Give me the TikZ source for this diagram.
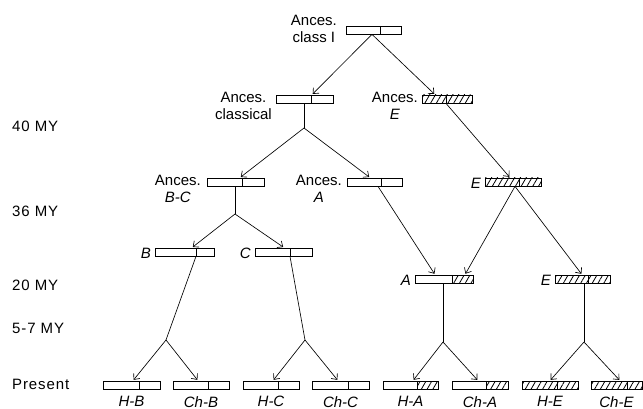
\documentclass[tikz,border=0pt]{standalone}
\usepackage{fontspec}
\setmainfont{Liberation Sans}
\usetikzlibrary{arrows.meta,patterns.meta,calc}
\tikzset{
  lbl/.style={font=\fontsize{15}{17}\selectfont, inner sep=0pt},
  tlbl/.style={font=\fontsize{15}{17}\selectfont\addfontfeature{LetterSpace=6}, inner sep=0pt},
  ilbl/.style={font=\fontsize{15}{17}\selectfont\itshape, inner sep=0pt},
  conn/.style={line width=0.65pt},
  arr/.style={conn, shorten >=1pt, -{Straight Barb[length=4.5pt,width=8pt]}},
  barbox/.style={draw, line width=0.75pt, inner sep=0pt, minimum height=8pt},
  hatch/.style={pattern={Lines[angle=60,distance=5pt,line width=0.8pt]}},
}
\newcommand\gbar[6]{%
  \ifcase#6\or
    \fill[hatch] (#4,#5) rectangle (#3,#5+8);
  \or
    \fill[hatch] (#2,#5) rectangle (#3,#5+8);
  \fi
  \node[barbox, minimum width={#3pt-#2pt}] (#1) at ({(#2+#3)/2},{#5+4}) {};
  \draw[line width=0.75pt] (#4,#5) -- (#4,#5+8);
}
\begin{document}
\begin{tikzpicture}[x=1pt,y=-1pt]
\useasboundingbox[fill=white] (0,0) rectangle (643,409);
% bars
\gbar{top}{346}{401}{380}{26}{0}
\gbar{cl}{276}{333}{311}{95}{0}
\gbar{e40}{422}{472}{446}{95}{2}
\gbar{bc}{207}{264}{242}{178}{0}
\gbar{a36}{347}{402}{381}{178}{0}
\gbar{e36}{485}{541}{519}{178}{2}
\gbar{b}{155}{214}{196}{248}{0}
\gbar{c}{255}{312}{290}{248}{0}
\gbar{a20}{415}{473}{452}{275}{1}
\gbar{e20}{555}{610}{588}{275}{2}
\gbar{hb}{103}{160}{139}{381}{0}
\gbar{chb}{173}{229}{208}{381}{0}
\gbar{hc}{243}{299}{278}{381}{0}
\gbar{chc}{312}{369}{348}{381}{0}
\gbar{ha}{383}{438}{417}{381}{1}
\gbar{cha}{452}{508}{486}{381}{1}
\gbar{he}{522}{578}{557}{381}{2}
\gbar{che}{591}{642}{627}{381}{2}
% fork points
\coordinate (f1) at (304,128);
\coordinate (f2) at (235,214);
\coordinate (f3) at (166,340);
\coordinate (f4) at (305,340);
\coordinate (f5) at (443,342);
\coordinate (f6) at (584,342);
% connectors
\draw[arr] ([xshift=-1.5pt]top.south) -- ([xshift=7.5pt]cl.north);
\draw[arr] ([xshift=-1.5pt]top.south) -- ([xshift=-12pt]e40.north);
\draw[conn] ([xshift=-0.5pt]cl.south) -- (f1);
\draw[arr] (f1) -- ([xshift=4.5pt]bc.north);
\draw[arr] (f1) -- ([xshift=-4.5pt]a36.north);
\draw[conn] ([xshift=-0.5pt]bc.south) -- (f2);
\draw[arr] (f2) -- ([xshift=7.5pt]b.north);
\draw[arr] (f2) -- ([xshift=0.5pt]c.north);
\draw[arr] ([xshift=3.5pt]a36.south) -- ([xshift=-9pt]a20.north);
\draw[arr] ([xshift=-1pt]e40.south) -- ([xshift=-3pt]e36.north);
\draw[arr] ([xshift=2pt]e36.south) -- ([xshift=21pt]a20.north);
\draw[arr] ([xshift=2pt]e36.south) -- ([xshift=-0.5pt]e20.north);
\draw[conn] ([xshift=11.5pt]b.south) -- (f3);
\draw[arr] (f3) -- ([xshift=1.5pt]hb.north);
\draw[arr] (f3) -- ([xshift=-3pt]chb.north);
\draw[conn] ([xshift=6.5pt]c.south) -- (f4);
\draw[arr] (f4) -- ([xshift=2pt]hc.north);
\draw[arr] (f4) -- ([xshift=-2.5pt]chc.north);
\draw[conn] ([xshift=-1pt]a20.south) -- (f5);
\draw[arr] (f5) -- ([xshift=2.5pt]ha.north);
\draw[arr] (f5) -- ([xshift=-2pt]cha.north);
\draw[conn] ([xshift=1.5pt]e20.south) -- (f6);
\draw[arr] (f6) -- (he.north);
\draw[arr] (f6) -- ([xshift=3.5pt]che.north);
% node labels
\node[lbl, align=center, anchor=north east] (ltop) at (337,15) {Ances.\\class I};
\node[lbl, align=center, anchor=north east] (lcl) at (272,92) {Ances.\\classical};
\node[lbl, align=center, anchor=north east] (le40) at (418,92) {Ances.\\\textit{E}};
\node[lbl, align=center, anchor=north east] (lbc) at (201,175) {Ances.\\\textit{B-C}};
\node[lbl, align=center, anchor=north east] (la36) at (342,175) {Ances.\\\textit{A}};
\node[ilbl, anchor=east] (le36) at (481,183) {E};
\node[ilbl, anchor=east] (lb) at (151,253) {B};
\node[ilbl, anchor=east] (lc) at (251,253) {C};
\node[ilbl, anchor=east] (la20) at (411,280) {A};
\node[ilbl, anchor=east] (le20) at (551,280) {E};
% present labels
\node[ilbl, anchor=north] (thb) at (131.5,396) {H-B};
\node[ilbl, anchor=north] (tchb) at (201,396) {Ch-B};
\node[ilbl, anchor=north] (thc) at (271,396) {H-C};
\node[ilbl, anchor=north] (tchc) at (340.5,396) {Ch-C};
\node[ilbl, anchor=north] (tha) at (410.5,396) {H-A};
\node[ilbl, anchor=north] (tcha) at (480,396) {Ch-A};
\node[ilbl, anchor=north] (the) at (550,396) {H-E};
\node[ilbl, anchor=north] (tche) at (616.5,396) {Ch-E};
% time axis
\node[tlbl, anchor=west] (t40) at (12,126) {40 MY};
\node[tlbl, anchor=west] (t36) at (12,211) {36 MY};
\node[tlbl, anchor=west] (t20) at (12,285) {20 MY};
\node[tlbl, anchor=west] (t5) at (12,328) {5-7 MY};
\node[tlbl, anchor=west] (tp) at (12,384) {Present};
\end{tikzpicture}
\end{document}
